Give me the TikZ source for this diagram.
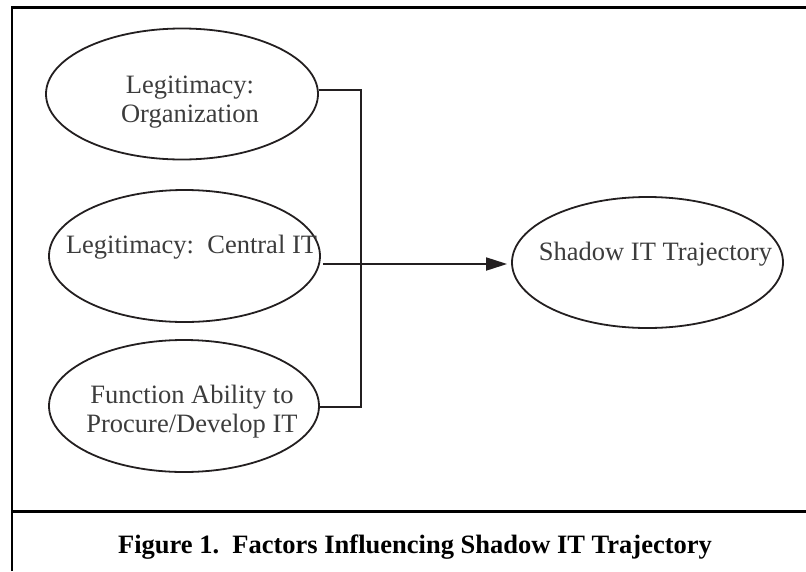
\documentclass[tikz,border=0pt]{standalone}
\usepackage{fontspec}
\setmainfont{Liberation Serif}
\usetikzlibrary{shapes.geometric,arrows.meta}
\definecolor{ink}{HTML}{231F20}
\definecolor{txt}{HTML}{3C3C3C}
\tikzset{
  oval/.style={ellipse,draw=ink,line width=1.8pt,inner sep=0pt},
  lbl/.style={anchor=base,align=center,text=txt,font=\fontsize{26.5}{29}\selectfont,inner sep=0pt},
  conn/.style={draw=ink,line width=1.8pt},
  framel/.style={draw=black,line width=2.8pt}
}
\begin{document}
\begin{tikzpicture}[x=1pt,y=-1pt]
\useasboundingbox (0,0) rectangle (806,571);
% frame
\coordinate (fl) at (12,7.5);
\coordinate (fb) at (12,571);
\coordinate (fr) at (806,7.5);
\coordinate (dl) at (12,511.5);
\coordinate (dr) at (806,511.5);
\draw[framel] (fb) -- (fl) -- (fr);
\draw[framel] (dl) -- (dr);
% ellipses
\node[oval,minimum width=272pt,minimum height=131pt] (e1) at (182,94) {};
\node[oval,minimum width=271pt,minimum height=132pt] (e2) at (184.5,256) {};
\node[oval,minimum width=270pt,minimum height=132pt] (e3) at (184,406) {};
\node[oval,minimum width=271pt,minimum height=131pt] (e4) at (647.5,262.5) {};
% labels (base = baseline of last line)
\node[lbl] (t1) at (190,122) {Legitimacy:\\Organization};
\node[lbl] (t2) at (191.5,253) {Legitimacy:\ \ Central IT};
\node[lbl] (t3) at (192,432) {Function Ability to\\Procure/Develop IT};
\node[lbl] (t4) at (655.5,260) {Shadow IT Trajectory};
% connectors
\coordinate (j1) at (361,90);
\coordinate (j3) at (361,407);
\coordinate (j2) at (361,264);
\draw[conn] (e1.east |- j1) -- (j1) -- (j3) -- (e3.east |- j3);
\draw[conn,-{Triangle[length=21pt,width=13pt]},shorten <=2pt,shorten >=4pt] (e2.east |- j2) -- (e4.west |- j2);
% caption
\node[anchor=base,inner sep=0pt,font=\fontsize{26.5}{29}\selectfont\bfseries] (cap) at (415,553) {Figure 1.\ \ Factors Influencing Shadow IT Trajectory};
\end{tikzpicture}
\end{document}
